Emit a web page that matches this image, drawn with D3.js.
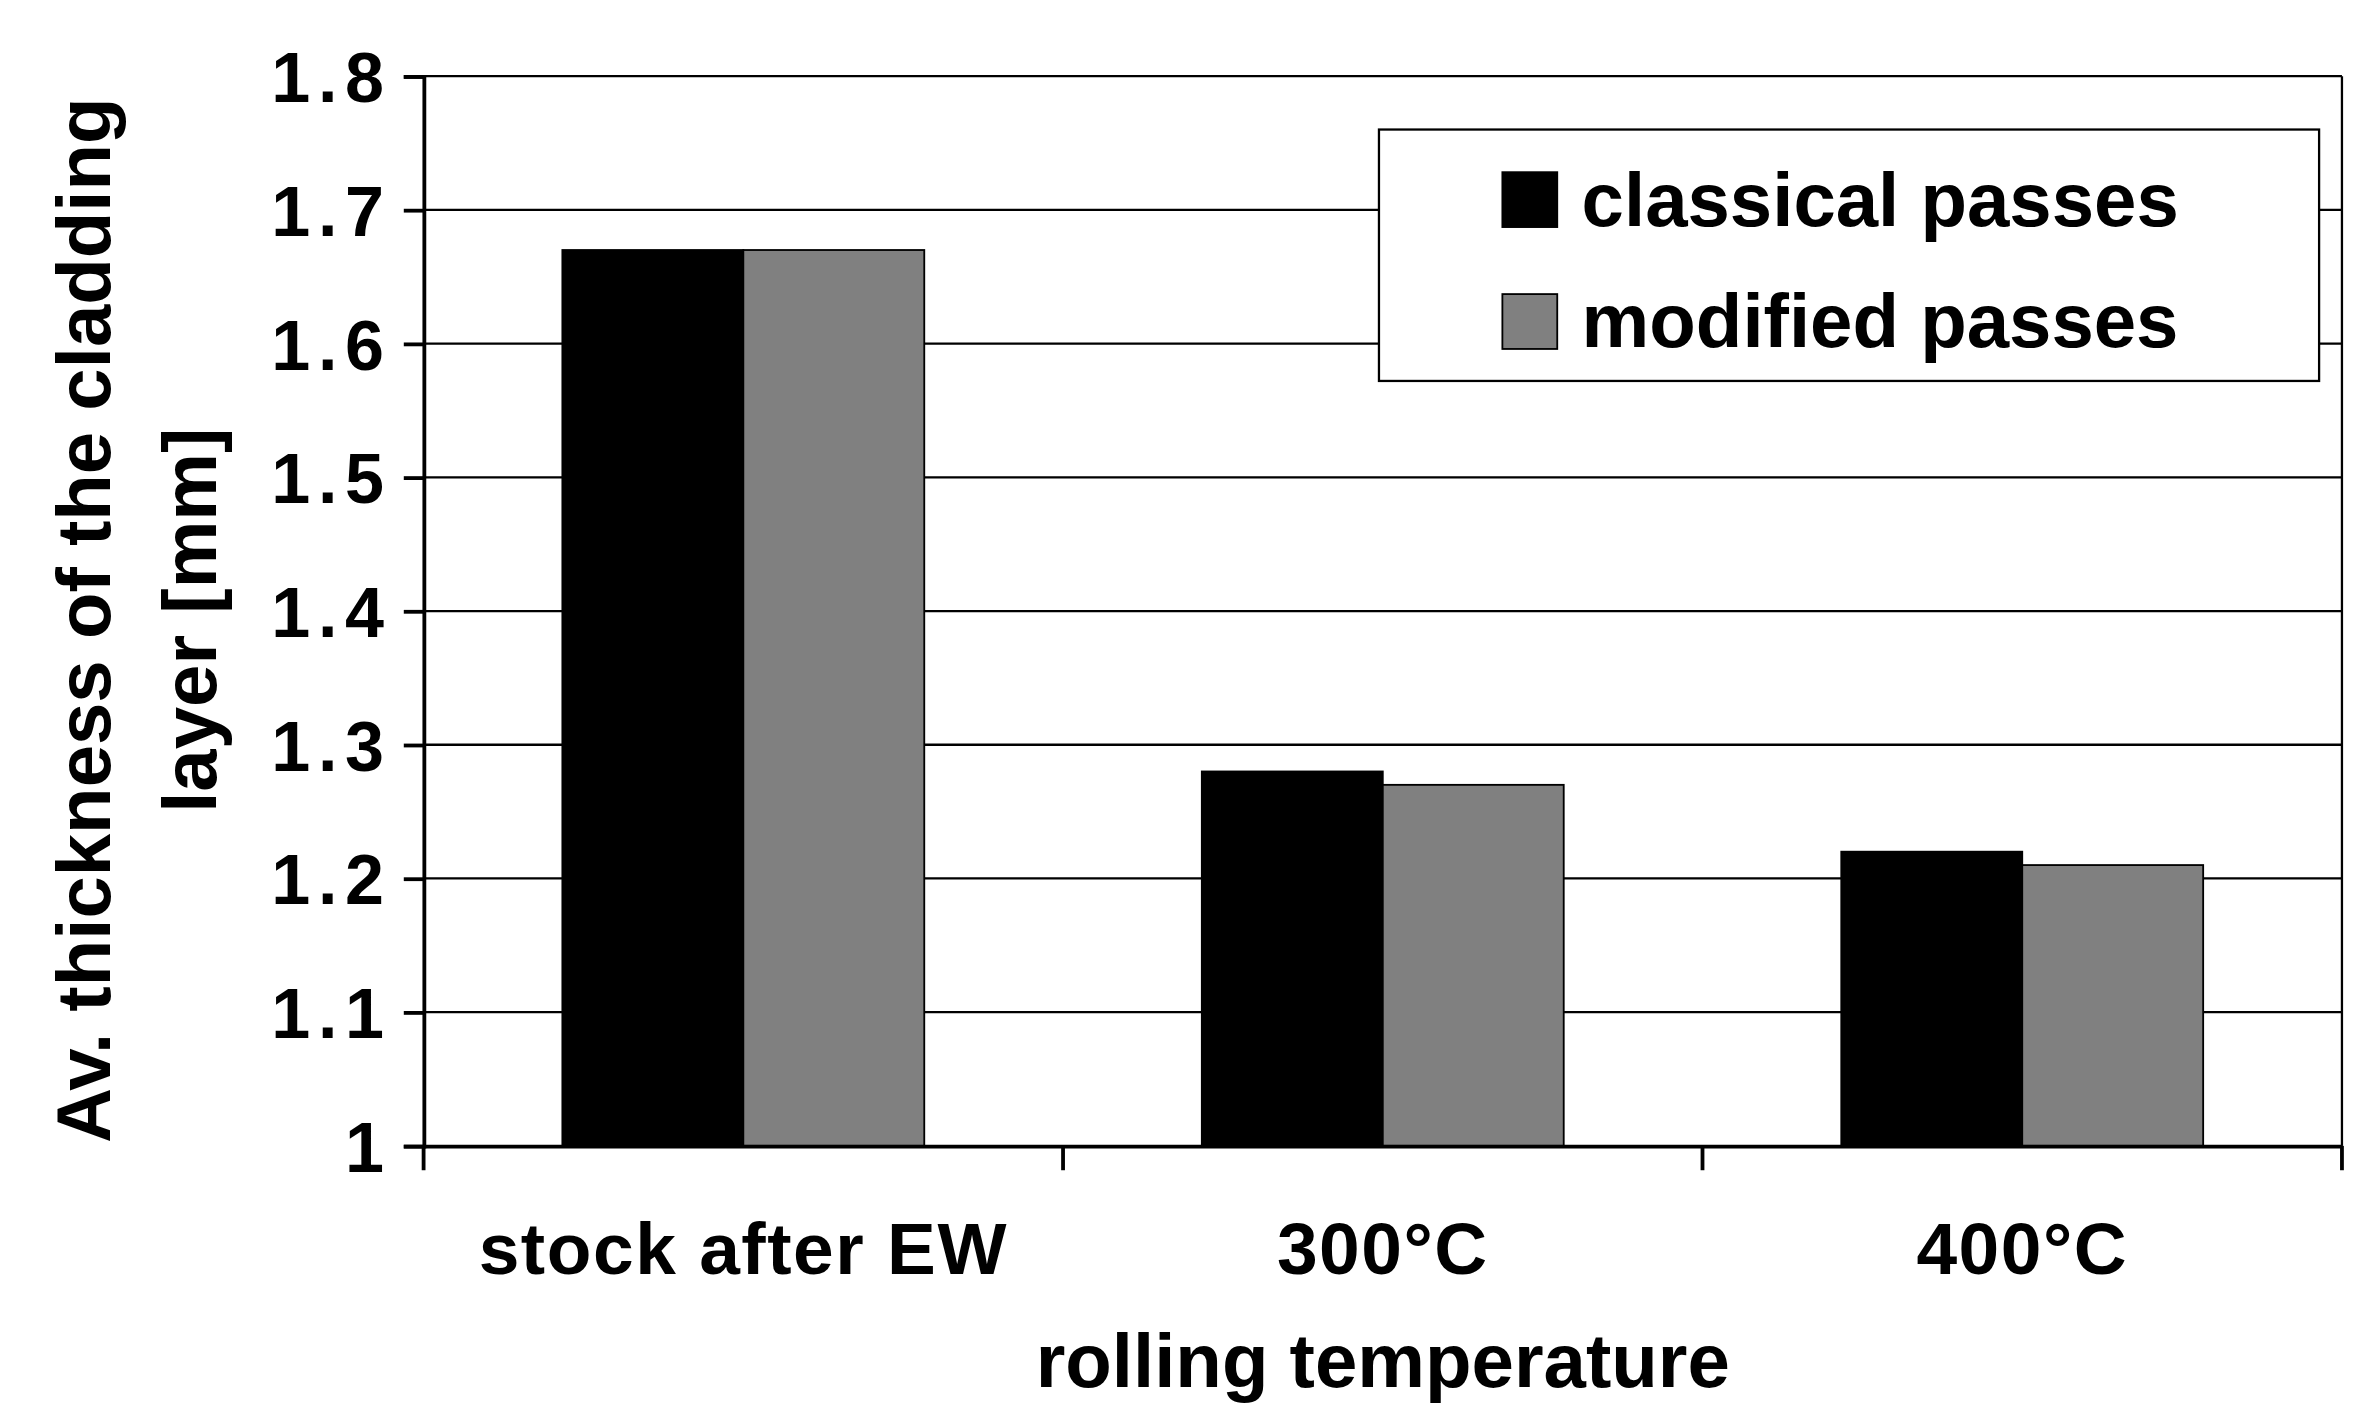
<!DOCTYPE html>
<html>
<head>
<meta charset="utf-8">
<script src="https://cdn.jsdelivr.net/npm/d3@7"></script>
<style>
  body { margin: 0; background: #fff; }
  text { font-family: "Liberation Sans", Arial, sans-serif; font-weight: bold; }
</style>
</head>
<body>
<svg id="chart" width="2377" height="1411" viewBox="0 0 1560 926"></svg>
<script>
var categories = ["stock after EW", "300°C", "400°C"];
var seriesNames = ["classical passes", "modified passes"];
var classical = [1.67, 1.28, 1.22];
var modified = [1.67, 1.27, 1.21];
var yTicks = [1, 1.1, 1.2, 1.3, 1.4, 1.5, 1.6, 1.7, 1.8];
var colors = ["#000000", "#808080"];

var svg = d3.select("#chart");
var m = {left: 278, right: 1537, top: 50, bottom: 752};

var x = d3.scaleBand().domain(categories).range([m.left, m.right]).paddingInner(0).paddingOuter(0);
var inner = d3.scaleBand().domain([0, 1]).range([0, x.bandwidth()]).paddingInner(0).paddingOuter(0.767);
var y = d3.scaleLinear().domain([1, 1.8]).range([m.bottom, m.top]);

// gridlines
svg.selectAll(".grid").data(yTicks.slice(1)).enter().append("line")
  .attr("x1", m.left).attr("x2", m.right)
  .attr("y1", d => y(d)).attr("y2", d => y(d))
  .attr("stroke", "#000").attr("stroke-width", 1.5);

// bars
var series = [classical, modified];
series.forEach(function(vals, s) {
  svg.selectAll(".bar" + s).data(vals).enter().append("rect")
    .attr("x", (d, i) => x(categories[i]) + inner(s))
    .attr("width", inner.bandwidth())
    .attr("y", d => y(d))
    .attr("height", d => y(1) - y(d))
    .attr("fill", colors[s]).attr("stroke", "#000").attr("stroke-width", 1.2);
});

svg.append("line").attr("x1", m.right).attr("x2", m.right).attr("y1", m.top).attr("y2", m.bottom)
  .attr("stroke", "#000").attr("stroke-width", 1.5);

// y axis
var yAxis = svg.append("g").attr("transform", "translate(" + m.left + ",0)")
  .call(d3.axisLeft(y).tickValues(yTicks).tickSize(13).tickPadding(8).tickFormat(d3.format("")));
yAxis.select(".domain").attr("stroke-width", 2.5);
yAxis.selectAll(".tick line").attr("stroke-width", 2.5);
yAxis.selectAll("text").style("font-size", "46px").style("letter-spacing", "5px")
  .attr("fill", "#000").attr("dy", "0.36em");

// x axis
var xAxis = svg.append("g").attr("transform", "translate(0," + m.bottom + ")")
  .call(d3.axisBottom(x).tickSize(0).tickPadding(50));
xAxis.select(".domain").attr("stroke-width", 2.5);
xAxis.selectAll("text").style("font-size", "48px").style("letter-spacing", "1px").attr("fill", "#000");
var bounds = [m.left].concat(categories.map(c => x(c) + x.bandwidth()));
svg.selectAll(".xt").data(bounds).enter().append("line")
  .attr("x1", d => d).attr("x2", d => d).attr("y1", m.bottom).attr("y2", m.bottom + 16)
  .attr("stroke", "#000").attr("stroke-width", 2.5);

// axis titles
svg.append("text").attr("x", (m.left + m.right) / 2).attr("y", 910)
  .attr("text-anchor", "middle").style("font-size", "50px").text("rolling temperature");
var yt = svg.append("text").attr("transform", "translate(72,407) rotate(-90)")
  .attr("text-anchor", "middle").style("font-size", "50px");
yt.append("tspan").attr("x", 0).attr("dy", 0).text("Av. thickness of the cladding");
yt.append("tspan").attr("x", 0).attr("dy", 70).text("layer [mm]");

// legend
var lg = svg.append("g");
lg.append("rect").attr("x", 905).attr("y", 85).attr("width", 617).attr("height", 165)
  .attr("fill", "#fff").attr("stroke", "#000").attr("stroke-width", 1.5);
seriesNames.forEach(function(n, i) {
  var yy = 131 + i * 80;
  lg.append("rect").attr("x", 986).attr("y", yy - 18).attr("width", 36).attr("height", 36)
    .attr("fill", colors[i]).attr("stroke", "#000").attr("stroke-width", 1.2);
  lg.append("text").attr("x", 1038).attr("y", yy + 17).style("font-size", "50px").text(n);
});
</script>
</body>
</html>
